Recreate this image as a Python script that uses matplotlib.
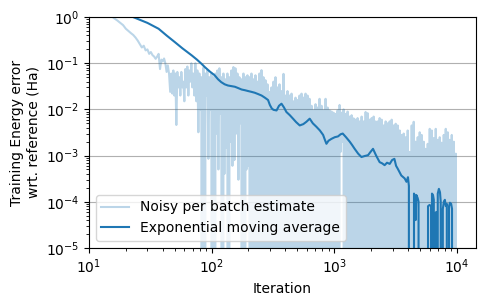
import numpy as np
import matplotlib
matplotlib.use("Agg")
import matplotlib.pyplot as plt

# ---- Noisy per-batch estimate: early iterations (one value per iteration) ----
early_iter = list(range(10, 47))
early_vals = [2.3, 2.0, 1.7, 1.45, 1.25, 1.1, 0.95, 0.85, 0.75, 0.67,
              0.56, 0.5, 0.45, 0.41, 0.36, 0.31, 0.26, 0.22, 0.24, 0.19,
              0.2, 0.16, 0.175, 0.15, 0.14, 0.125, 0.14, 0.16, 0.075, 0.12,
              0.11, 0.127, 0.1, 0.065, 0.09, 0.06, 0.024]

# ---- Noisy estimate from iteration 47 to 10000: local maxima / minima (mHa) ----
tail_start, tail_end = 47, 10000
noisy_peaks_mHa = [
    60, 70, 60, 65, 50, 65, 40, 75, 85, 70, 100, 60, 100, 70, 60, 50, 80, 60, 70, 50, 60,
    50, 60, 70, 78, 50, 60, 45, 60, 50, 70, 83, 78, 60, 50, 45, 60, 50, 55, 50,
    60, 45, 55, 40, 60, 71, 50, 43, 35, 24,
    30, 40, 50, 30, 35, 25, 59, 20, 25, 20,
    22, 15, 18, 16, 20, 22, 18, 22, 20, 17,
    12, 9.5, 13, 11, 17, 12, 9.5, 17, 11, 9.5,
    9, 8.5, 8, 9.5, 12.5, 8.5, 10, 8, 9, 7,
    7.5, 6.4, 6, 6.5, 5.5, 7, 5.5, 8.8, 8.3, 6,
    6.5, 7, 5.5, 5.5, 6.5, 6, 4.5, 5.5, 5, 5.5,
    6, 4.5, 4.9, 4.5, 3.5, 2.8, 3, 2.5, 3.5, 1.2,
    4.5, 5.4, 2, 2.5, 3.2, 2.8, 2, 1.4, 1.8, 3.8,
    3.5, 2.4, 3.8, 2.2, 2.5, 1.9, 2.8, 3.8, 3.2, 2.2,
    2.8, 2, 1.1,
]
noisy_troughs_mHa = [
    22, 20, 4.6, 30, 20, 30, 15, 30, 20, 40, 30, 20, 15, 3.2, 10, -1, -2, 20, 0.85, 10, -1.5,
    -1, 3, 0.5, 8, -2, 0.4, 1.5, -1, 2, 0.6, 0.8, 3, 0.3, 5, -1, -3, 0.5, 0.6, -1,
    -3, -1, 2, -4, -2, 1.5, -5, -1, -2, -6,
    0.6, -3, 9, -2, -4, -1, -7, -2, -3, -1,
    -5, -2, -4, -1, -3, -6, -2, -1, 1.5, -3,
    -2, -4, -1, -3, -2, -5, -1, -2, -3, -4,
    -1, -2, 2, -1, 1.2, 2, -3, -2, -4, -1,
    -2, -3, -1, -2, -4, -1, -3, -2, -1, -2,
    -3, -1, -2, -4, -1, -2, -3, -1, -2, -3,
    -1, -2, -3, 0.8, -1, -2, -1, -3, -2, -1,
    -2, -1, -3, -2, -1, -2, -1, -3, -2, -1,
    -2, -1, -2, -3, -1, -2, -1, -2, -1, -2,
    -1, -2, -1,
]

# ---- Exponential moving average ----
ema_iter = [10, 16, 23, 30, 37, 43, 50, 58, 69, 76, 83, 88, 97, 106, 113, 120, 128, 136,
            145, 155, 165, 176, 188, 199, 212, 225, 240, 256, 272, 289, 299, 310, 320,
            339, 355, 372, 390, 408, 435, 462, 490, 524, 560, 594, 632, 670, 717, 765,
            813, 840, 865, 900, 950, 1012, 1075, 1130, 1175, 1250, 1340, 1400, 1470,
            1570, 1670, 1780, 1890, 1980, 2075, 2200, 2350, 2460, 2580, 2700, 2840,
            2970, 3100, 3200, 3300, 3530, 3760, 3890, 4000, 4070, 4130, 4400, 4480,
            4560, 4620, 4680, 4800, 4880, 4920, 5800, 5830, 6000, 6180, 6230, 6280,
            6400, 6500, 6560, 6600, 6800, 6900, 7000, 7150, 7300, 7400, 7450, 7700,
            7850, 8000, 8150, 8300, 8400, 8650, 8800, 9000, 9150, 9200, 10000]
ema_vals = [2.8, 1.6, 1.0, 0.75, 0.56, 0.4, 0.29, 0.21, 0.148, 0.12, 0.097, 0.083, 0.066,
            0.055, 0.045, 0.039, 0.035, 0.033, 0.032, 0.031, 0.029, 0.027, 0.026, 0.025,
            0.024, 0.023, 0.0215, 0.020, 0.018, 0.016, 0.0125, 0.0105, 0.0098, 0.0095,
            0.012, 0.0133, 0.011, 0.0088, 0.0075, 0.0063, 0.0053, 0.0045, 0.0048, 0.0054,
            0.0063, 0.005, 0.0042, 0.0035, 0.0028, 0.0022, 0.0018, 0.0021, 0.0023, 0.0025,
            0.0026, 0.0029, 0.0030, 0.0025, 0.002, 0.0017, 0.0014, 0.0011, 0.00093,
            0.00098, 0.00102, 0.0012, 0.0014, 0.001, 0.00072, 0.00068, 0.00062, 0.0007,
            0.00066, 0.0008, 0.00085, 0.0006, 0.00052, 0.00037, 0.00032, 0.00027, 0.00034,
            0.00022, -0.0001, -0.00005, 0.00015, 0.00013, 0.00004, 0.00014, 0.00012,
            0.0001, -0.00001, -0.00002, 0.00008, 0.000085, 0.00008, -0.00001, 0.00015,
            0.00014, 0.00011, -0.00001, 0.00005, 0.00006, -0.00001, 0.00015, 0.00019,
            0.00016, 0.0001, -0.00001, 0.00007, 0.0001, 0.00011, 0.00008, 0.00009,
            -0.00001, 0.00008, 0.000095, 0.00009, 0.00007, -0.00001, -0.00002]

# ---- assemble noisy series ----
n = min(len(noisy_peaks_mHa), len(noisy_troughs_mHa))
tail_vals = np.empty(2 * n)
tail_vals[0::2] = np.array(noisy_peaks_mHa[:n]) * 1e-3
tail_vals[1::2] = np.array(noisy_troughs_mHa[:n]) * 1e-3
tail_iter = np.geomspace(tail_start, tail_end, 2 * n)
noisy_iter = np.concatenate([early_iter, tail_iter])
noisy_vals = np.concatenate([early_vals, tail_vals])

fig = plt.figure(figsize=(4.86, 3.06), dpi=100)
ax = fig.add_axes([0.183, 0.19, 0.796, 0.754])
ax.set_xscale("log")
ax.set_yscale("log")
ax.plot(noisy_iter, noisy_vals, color="C0", alpha=0.3, lw=1.5,
        label="Noisy per batch estimate")
ax.plot(ema_iter, ema_vals, color="C0", lw=1.5, label="Exponential moving average")
ax.set_xlim(10, 14300)
ax.set_ylim(1e-5, 1)
ax.grid(axis="y", which="major")
ax.set_xlabel("Iteration")
ax.set_ylabel("Training Energy error\nwrt. reference (Ha)")
ax.legend(loc="lower left")
fig.savefig("out.png", dpi=100)
